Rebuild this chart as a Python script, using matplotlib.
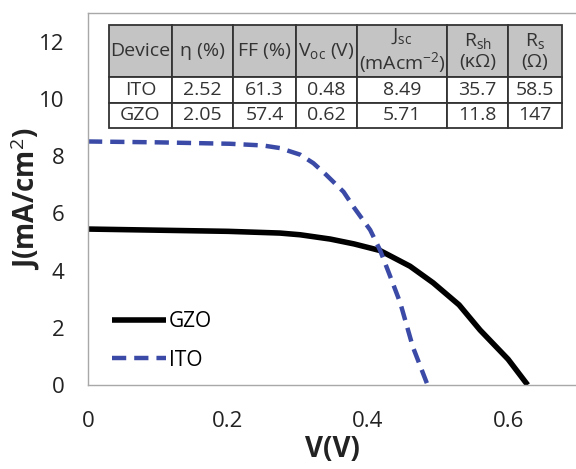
import matplotlib
matplotlib.use("Agg")
from matplotlib import pyplot as plt

plt.rcParams["font.family"] = ["Open Sans", "DejaVu Sans"]
plt.rcParams["mathtext.fontset"] = "custom"
plt.rcParams["mathtext.rm"] = "Open Sans"
plt.rcParams["mathtext.it"] = "Open Sans:italic"

# J-V curves
v_gzo = [0, 0.1, 0.2, 0.274, 0.303, 0.346, 0.38, 0.417, 0.46, 0.493, 0.53, 0.56, 0.6, 0.628]
j_gzo = [5.45, 5.41, 5.37, 5.31, 5.25, 5.10, 4.93, 4.70, 4.15, 3.57, 2.8, 1.92, 0.9, 0]
v_ito = [0, 0.1, 0.203, 0.25, 0.274, 0.303, 0.322, 0.34, 0.365, 0.38, 0.403, 0.417, 0.43, 0.446, 0.464, 0.485]
j_ito = [8.51, 8.48, 8.43, 8.37, 8.28, 8.05, 7.75, 7.35, 6.75, 6.2, 5.42, 4.72, 3.9, 2.87, 1.33, 0]

# inset table
header = ["Device", "η (%)", "FF (%)", "V$_\\mathrm{oc}$ (V)", "J$_\\mathrm{sc}$\n(mAcm$^{-2}$)",
          "R$_\\mathrm{sh}$\n(κΩ)", "R$_\\mathrm{s}$\n(Ω)"]
row_ito = ["ITO", "2.52", "61.3", "0.48", "8.49", "35.7", "58.5"]
row_gzo = ["GZO", "2.05", "57.4", "0.62", "5.71", "11.8", "147"]
col_w = [63, 61, 63, 61, 90, 61, 54]

xticks = [0, 0.2, 0.4, 0.6]
yticks = [0, 2, 4, 6, 8, 10, 12]

fig = plt.figure(figsize=(5.76, 4.69), dpi=100)
ax = fig.add_axes([88/576, 84/469, 488/576, 372/469])

ax.plot(v_gzo, j_gzo, color="black", lw=4.0, label="GZO", solid_capstyle="butt")
ax.plot(v_ito, j_ito, color="#3a4aa6", lw=3.2, ls=(0, (3.2, 1.8)), label="ITO")

ax.set_xlim(0, 0.697)
ax.set_ylim(0, 13)
ax.set_xticks(xticks)
ax.set_xticklabels(["0", "0.2", "0.4", "0.6"])
ax.set_yticks(yticks)
ax.tick_params(length=0, labelsize=16, labelcolor="#222222")
ax.tick_params(axis="x", pad=19)
ax.tick_params(axis="y", pad=17)
for s in ["left", "bottom", "top"]:
    ax.spines[s].set_color("#a8a8a8")
    ax.spines[s].set_linewidth(1.0)
ax.spines["right"].set_visible(False)

ax.set_xlabel("V(V)", fontsize=20, fontweight="bold", labelpad=2, color="#222222")
ax.set_ylabel("J(mA/cm$^2$)", fontsize=20, fontweight="bold", labelpad=-2, color="#222222")

ax.legend(loc="lower left", bbox_to_anchor=(0.01, -0.012), frameon=False, fontsize=15,
          handlelength=2.6, handletextpad=0.15, labelspacing=0.85)

tab = ax.table(cellText=[header, row_ito, row_gzo], colWidths=col_w, cellLoc="center",
               bbox=[(109-88)/488, (385-128)/372, 453/488, 103/372])
tab.auto_set_font_size(False)
tab.set_fontsize(14)
row_h = [52, 26, 25]
for (r, c), cell in tab.get_celld().items():
    cell.set_height(row_h[r])
    cell.set_linewidth(1.3)
    cell.set_edgecolor("#333333")
    cell.PAD = 0.03
    cell.get_text().set_color("#333333")
    if r == 0:
        cell.set_facecolor("#c4c4c4")

plt.savefig("out.png", dpi=100)
